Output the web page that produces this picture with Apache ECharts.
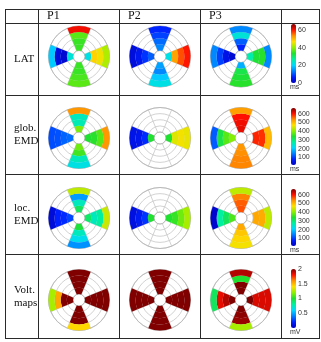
<!DOCTYPE html>
<html>
<head>
<meta charset="utf-8">
<script src="https://cdn.jsdelivr.net/npm/echarts@6/dist/echarts.min.js"></script>
<style>
html, body { margin: 0; padding: 0; background: #fff; }
#chart { width: 321px; height: 342px; }
</style>
</head>
<body>
<div id="chart"></div>
<script>
// table headers
const cols = ['P1', 'P2', 'P3'];
const rows = ['LAT', 'glob.\nEMD', 'loc.\nEMD', 'Volt.\nmaps'];
const units = ['ms', 'ms', 'ms', 'mV'];

// bullseye sectors, 45 deg each, starting at the top and going clockwise
const sectors = ['N', 'NE', 'E', 'SE', 'S', 'SW', 'W', 'NW'];
const wedgeSectors = [0, 2, 4, 6]; // top, right, bottom, left

// values per plot: [top, right, bottom, left], each ring from inner to outer, null = blank
const latVals = [
  [[35, 35, 37, 61], [22, 48, 46, 42], [35, 35, 36, 37], [23, 2, 3, 19]],
  [[14, 12, 9, 7], [22, 52, 57, 60], [16, 14, 19, 22], [11, 8, 5, 3]],
  [[7, 11, 23, 14], [26, 33, 34, 14], [17, 32, 33, 34], [2, 4, 9, 14]]
];
const globVals = [
  [[392, 262, 255, 529], [340, 345, 372, 529], [385, 360, 255, 230], [132, 125, 113, 110]],
  [[null, null, null, null], [340, 450, 463, 457], [null, null, null, null], [340, 86, 60, 55]],
  [[613, 607, 600, 522], [null, 590, 585, 502], [529, 535, 540, 540], [398, 372, 327, 119]]
];
const locVals = [
  [[314, 255, 165, 431], [308, 255, 275, 438], [334, 255, 223, 158], [106, 86, 80, 41]],
  [[null, null, null, null], [340, 353, 385, 418], [null, null, null, null], [340, 93, 67, 47]],
  [[568, 561, 542, 431], [null, 515, 512, 431], [515, 490, 477, 464], [366, 314, 275, 28]]
];
const voltVals = [
  [[2, 2, 2, 2], [2, 2, 2, 2], [2, 2, 2, 1.42], [2, 2, 1.54, 1.24]],
  [[2, 2, 2, 2], [2, 2, 2, 2], [2, 2, 2, 2], [2, 2, 2, 2]],
  [[2, 2, 1.0, 1.92], [2, 1.86, 1.86, 1.86], [2, 1.98, 1.96, 1.24], [2, 1.92, 1.84, 0.92]]
];
const maps = [latVals, globVals, locVals, voltVals];

// colour bar ranges and tick labels
const ranges = [[0, 67], [15, 665], [15, 665], [0, 2]];
const tickLabels = [
  [0, 20, 40, 60],
  [100, 200, 300, 400, 500, 600],
  [100, 200, 300, 400, 500, 600],
  [0.5, 1, 1.5, 2]
];

const rainbow = ['#0000c0', '#0020ff', '#0080ff', '#00d8ff', '#00f0a0', '#20e030',
  '#90f000', '#ffe000', '#ff9000', '#ff1000', '#800000'];

// layout
const colX = [5, 38, 119, 200, 281, 319];
const rowY = [9, 23, 95, 174, 254, 338];
const plotCx = [79, 160, 241];
const plotCy = [56.5, 138, 218, 300];
const barTop = [24, 108, 189, 269];
const barLen = [59, 57, 57, 59];
const gridColor = '#c6c6c6';

const chart = echarts.init(document.getElementById('chart'));

const polar = [], angleAxis = [], radiusAxis = [], series = [];
const visualMap = [], grid = [], xAxis = [], yAxis = [], graphic = [];

maps.forEach((rowVals, r) => {
  rowVals.forEach((plot, c) => {
    const p = polar.length;
    polar.push({ center: [plotCx[c], plotCy[r]], radius: [6, 30.5] });
    angleAxis.push({
      polarIndex: p, type: 'category', data: sectors, startAngle: 112.5,
      axisLine: { lineStyle: { color: '#b4b4b4', width: 0.8 } },
      axisTick: { show: false }, axisLabel: { show: false },
      splitLine: { show: true, lineStyle: { color: gridColor, width: 0.8 } }
    });
    radiusAxis.push({
      polarIndex: p, type: 'value', min: 0, max: 4, interval: 1,
      axisLine: { show: false }, axisTick: { show: false }, axisLabel: { show: false },
      splitLine: { show: true, lineStyle: { color: gridColor, width: 0.8 } }
    });
    for (let k = 0; k < 4; k++) {
      series.push({
        type: 'bar', coordinateSystem: 'polar', polarIndex: p, stack: 'plot' + p,
        barCategoryGap: '0%', silent: true,
        data: plot.map((wedge, i) => wedge[k] == null
          ? { value: [1, wedgeSectors[i], null], itemStyle: { opacity: 0 } }
          : [1, wedgeSectors[i], wedge[k]])
      });
    }
  });

  const idx = [];
  for (let i = r * 12; i < r * 12 + 12; i++) idx.push(i);
  visualMap.push({
    type: 'continuous', min: ranges[r][0], max: ranges[r][1], dimension: 2,
    seriesIndex: idx, orient: 'vertical', calculable: false, padding: 0,
    left: 291, top: barTop[r], itemWidth: 5, itemHeight: barLen[r],
    inRange: { color: rainbow }
  });

  grid.push({ left: 291, top: barTop[r], width: 5, height: barLen[r] });
  xAxis.push({ gridIndex: r, type: 'value', show: false });
  yAxis.push({
    gridIndex: r, type: 'value', min: ranges[r][0], max: ranges[r][1], position: 'right',
    axisLine: { show: false }, axisTick: { show: false }, splitLine: { show: false },
    axisLabel: {
      customValues: tickLabels[r], fontSize: 7, color: '#333', margin: 2,
      fontFamily: 'Liberation Sans'
    }
  });

  graphic.push({
    type: 'text', x: 290, y: barTop[r] + barLen[r] + 0.5,
    style: { text: units[r], font: '7px "Liberation Sans"', fill: '#333', verticalAlign: 'top' }
  });
  graphic.push({
    type: 'text', x: 14, y: (rowY[r + 1] + rowY[r + 2]) / 2 + 0.5,
    style: { text: rows[r], font: '11px "Liberation Serif"', fill: '#111', verticalAlign: 'middle', lineHeight: 13 }
  });
});

cols.forEach((name, c) => {
  graphic.push({
    type: 'text', x: colX[c + 1] + 9, y: 16,
    style: { text: name, font: '12px "Liberation Serif"', fill: '#111', verticalAlign: 'middle' }
  });
});

// table rules
rowY.forEach(y => {
  graphic.push({ type: 'line', shape: { x1: colX[0], y1: y + 0.5, x2: colX[colX.length - 1], y2: y + 0.5 }, style: { stroke: '#2a2a2a', lineWidth: 1 } });
});
colX.forEach(x => {
  graphic.push({ type: 'line', shape: { x1: x + 0.5, y1: rowY[0], x2: x + 0.5, y2: rowY[rowY.length - 1] + 1 }, style: { stroke: '#2a2a2a', lineWidth: 1 } });
});

chart.setOption({
  animation: false,
  polar, angleAxis, radiusAxis, series,
  visualMap, grid, xAxis, yAxis, graphic
});
</script>
</body>
</html>
